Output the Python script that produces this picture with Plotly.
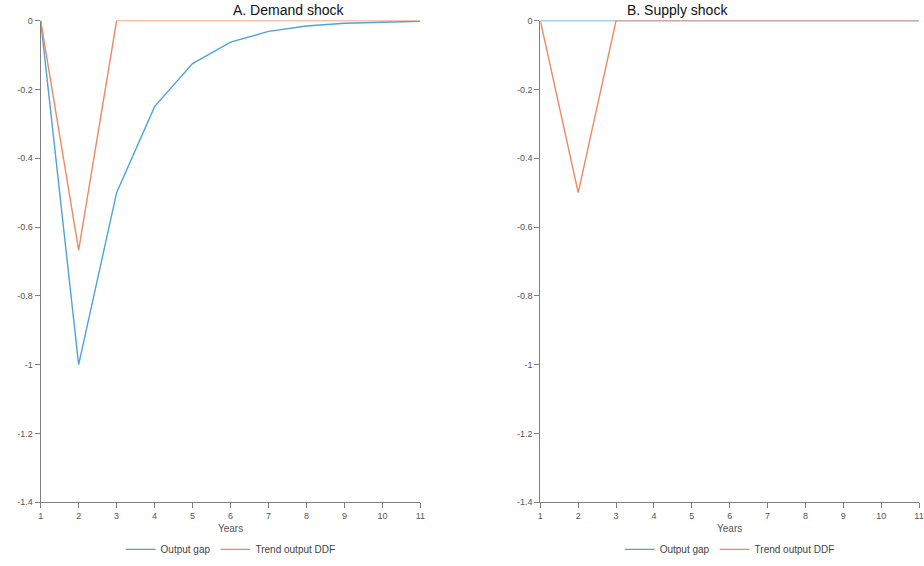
import plotly.graph_objects as go

years = list(range(1, 12))
demand_output_gap = [0, -1.0, -0.5, -0.25, -0.125, -0.0625, -0.03125, -0.015625, -0.0078, -0.0039, -0.002]
demand_trend_ddf = [0, -0.667, 0, 0, 0, 0, 0, 0, 0, 0, 0]
supply_output_gap = [0, 0, 0, 0, 0, 0, 0, 0, 0, 0, 0]
supply_trend_ddf = [0, -0.5, 0, 0, 0, 0, 0, 0, 0, 0, 0]
y_ticks = [0, -0.2, -0.4, -0.6, -0.8, -1.0, -1.2, -1.4]
y_tick_labels = ["0", "-0.2", "-0.4", "-0.6", "-0.8", "-1", "-1.2", "-1.4"]
titles = ["A. Demand shock", "B. Supply shock"]

BLUE = "#4ea4d4"
ORANGE = "#ee8862"
W, H = 924, 566


def px_x(p):
    return ((p - 2.3) / 0.992) / W


def px_y(p):
    return 1 - ((p - 5.44) / 0.979) / H


fig = go.Figure()
fig.add_trace(go.Scatter(x=years, y=demand_output_gap, mode="lines", name="Output gap",
                         line=dict(color=BLUE, width=1.4), xaxis="x", yaxis="y", legend="legend"))
fig.add_trace(go.Scatter(x=years, y=demand_trend_ddf, mode="lines", name="Trend output DDF",
                         line=dict(color=ORANGE, width=1.4), xaxis="x", yaxis="y", legend="legend"))
fig.add_trace(go.Scatter(x=years, y=supply_output_gap, mode="lines", name="Output gap",
                         line=dict(color=BLUE, width=1.4), xaxis="x2", yaxis="y2", legend="legend2"))
fig.add_trace(go.Scatter(x=years, y=supply_trend_ddf, mode="lines", name="Trend output DDF",
                         line=dict(color=ORANGE, width=1.4), xaxis="x2", yaxis="y2", legend="legend2"))

ydom = [px_y(501), px_y(21)]
x1dom = [px_x(40), px_x(420)]
x2dom = [px_x(540), min(1.0, px_x(920))]

axis_common = dict(showgrid=False, zeroline=False, showline=True, linecolor="#808080", linewidth=1,
                   ticks="outside", tickcolor="#808080", ticklen=5, tickwidth=1,
                   tickfont=dict(family="Liberation Sans, Arial", size=9, color="#555555"))

xax = dict(axis_common, range=[1, 11], tickvals=years, ticktext=[str(v) for v in years],
           title=dict(text="Years", font=dict(family="Liberation Sans, Arial", size=10, color="#555555"), standoff=4))
yax = dict(axis_common, range=[-1.4, 0], tickvals=y_ticks, ticktext=y_tick_labels)

leg_common = dict(orientation="h", y=px_y(548), yanchor="middle", xanchor="center",
                  font=dict(family="Liberation Sans, Arial", size=10, color="#444444"),
                  itemwidth=30, tracegroupgap=0, bgcolor="rgba(0,0,0,0)")

fig.update_layout(
    width=W, height=H,
    margin=dict(l=0, r=0, t=0, b=0),
    paper_bgcolor="white", plot_bgcolor="white",
    xaxis=dict(xax, domain=x1dom, anchor="y"),
    yaxis=dict(yax, domain=ydom, anchor="x"),
    xaxis2=dict(xax, domain=x2dom, anchor="y2"),
    yaxis2=dict(yax, domain=ydom, anchor="x2"),
    legend=dict(leg_common, x=(x1dom[0] + x1dom[1]) / 2),
    legend2=dict(leg_common, x=(x2dom[0] + x2dom[1]) / 2),
    annotations=[
        dict(text=titles[0], x=(x1dom[0] + x1dom[1]) / 2, y=px_y(10), xref="paper", yref="paper",
             showarrow=False, font=dict(family="Liberation Sans, Arial", size=14, color="#111111"), yanchor="middle"),
        dict(text=titles[1], x=(x2dom[0] + x2dom[1]) / 2, y=px_y(10), xref="paper", yref="paper",
             showarrow=False, font=dict(family="Liberation Sans, Arial", size=14, color="#111111"), yanchor="middle"),
    ],
)

fig.write_html("out.html")
